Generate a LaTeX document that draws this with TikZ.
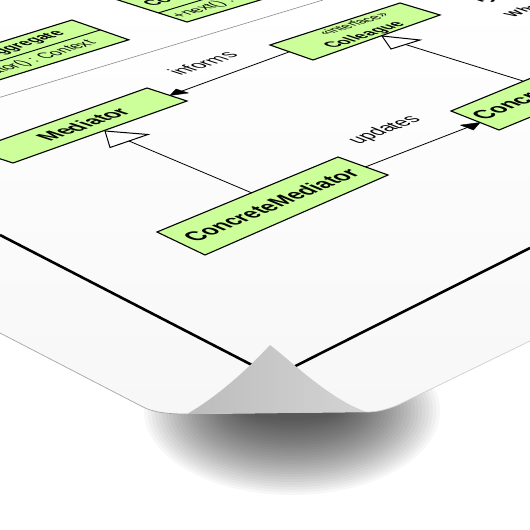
\documentclass[tikz,border=0pt]{standalone}
\usepackage{fontspec}
\setmainfont{Liberation Sans}
\usetikzlibrary{calc}
\definecolor{boxgreen}{RGB}{204,255,153}
\definecolor{sepgray}{RGB}{140,140,140}
\definecolor{edgegray}{RGB}{165,165,165}
\definecolor{edgelight}{RGB}{208,208,208}
\definecolor{curldark}{RGB}{188,188,188}
\definecolor{curllight}{RGB}{212,212,212}
\definecolor{paperlow}{RGB}{247,247,247}
\begin{document}
\begin{tikzpicture}[x=1pt,y=-1pt,
  box/.style={draw=black,line width=1.1pt,fill=boxgreen,line join=miter},
  divline/.style={draw=black,line width=0.9pt},
  conn/.style={draw=black,line width=0.8pt},
  headfill/.style={fill=black,draw=black,line width=0.4pt,line join=round},
  genhead/.style={fill=white,draw=black,line width=1pt,line join=miter},
  border/.style={draw=black,line width=2.6pt},
  txt/.style={inner sep=0pt,outer sep=0pt,text=black},
  fCI/.style={cm={0.958,0.288,-1.096,0.350,(0,0)}},
  fAgg/.style={cm={0.955,0.296,-1.087,0.380,(0,0)}},
  fMed/.style={cm={0.942,0.336,-1.094,0.355,(0,0)}},
  fCol/.style={cm={0.952,0.307,-1.094,0.357,(0,0)}},
  fInf/.style={cm={0.947,0.322,-1.094,0.357,(0,0)}},
  fCM/.style={cm={0.924,0.383,-1.060,0.445,(0,0)}},
  fUpd/.style={cm={0.930,0.360,-1.070,0.426,(0,0)}},
  fCC/.style={cm={0.925,0.380,-1.076,0.404,(0,0)}},
  fTR/.style={cm={0.950,0.310,-1.093,0.357,(0,0)}},
  bigname/.style={font=\fontsize{21}{24}\selectfont\bfseries},
  midname/.style={font=\fontsize{16}{19}\selectfont\bfseries},
  method/.style={font=\fontsize{15.5}{18}\selectfont},
  assoc/.style={font=\fontsize{19}{22}\selectfont},
]
\useasboundingbox (0,0) rectangle (530,530);
\clip (0,0) rectangle (530,530);
\fill[white] (0,0) rectangle (530,530);

% shadow under the curled corner
\foreach \i in {1,...,30}{
  \fill[black,opacity=0.03] (292,411) ellipse [x radius={40pt+3.6pt*\i}, y radius={6pt+2.6pt*\i}];
}

% paper
\shade[top color=white,bottom color=paperlow]
  (0,0) -- (530,0) -- (530,341) -- (398,405)
  .. controls (388,409) and (378,412) .. (367,412) -- (187,414)
  .. controls (170,414) and (155,413) .. (143,407) -- (0,333) -- cycle;
\draw[edgegray,line width=0.7pt] (0,333) -- (143,407) .. controls (155,413) and (170,414) .. (187,414);
\draw[edgelight,line width=0.7pt] (367,412) .. controls (378,412) and (388,409) .. (398,405) -- (530,341);

% separator line
\coordinate (sepA) at (0,97.3);
\coordinate (sepB) at (323,0);
\draw[sepgray,line width=0.6pt] (sepA) -- (sepB);

% ConcreteIterator (top, cut off)
\coordinate (ciTL) at (110.8,-2.3);
\coordinate (ciTR) at (244.9,-42.6);
\coordinate (ciBR) at (321.1,-18.3);
\coordinate (ciBL) at (187,22);
\coordinate (ciDL) at (158.4,12.9);
\coordinate (ciDR) at (292.5,-27.4);
\draw[box] (ciTL) -- (ciTR) -- (ciBR) -- (ciBL) -- cycle;
\draw[divline] (ciDL) -- (ciDR);
\node[txt,fCI,midname] (ciname) at (206.4,-13.4) {ConcreteIterator};
\node[txt,fCI,method,anchor=base west] (cimeth) at (180.4,18.1) {+next() : Context};

% ConcreteAggregate (top left, cut off)
\coordinate (caTL) at (-119,79.2);
\coordinate (caTR) at (72,20);
\coordinate (caBR) at (128.7,39.8);
\coordinate (caBL) at (-62.3,99);
\coordinate (caDL) at (-90.7,89.1);
\coordinate (caDR) at (100.4,29.9);
\draw[box] (caTL) -- (caTR) -- (caBR) -- (caBL) -- cycle;
\draw[divline] (caDL) -- (caDR);
\node[txt,fAgg,midname] (caname) at (-9.3,54.6) {ConcreteAggregate};
\node[txt,fAgg,method,anchor=base west] (cameth) at (-74.6,96.6) {+createIterator() : Context};

% Mediator
\coordinate (mTL) at (-27,150);
\coordinate (mTR) at (147,88);
\coordinate (mBR) at (187,101);
\coordinate (mBL) at (13,163);
\draw[box] (mTL) -- (mTR) -- (mBR) -- (mBL) -- cycle;
\node[txt,fMed,bigname] (mname) at (83,124.5) {Mediator};

% Colleague
\coordinate (cTL) at (270,45);
\coordinate (cTR) at (400,3);
\coordinate (cBR) at (440,15);
\coordinate (cBL) at (313,60);
\draw[box] (cTL) -- (cTR) -- (cBR) -- (cBL) -- cycle;
\node[txt,fCol,font=\fontsize{13.5}{16}\selectfont] (cster) at (353,24) {«interface»};
\node[txt,fCol,midname] (cname) at (365,35.5) {Colleague};

% ConcreteMediator
\coordinate (cmTL) at (157,232);
\coordinate (cmTR) at (338,157);
\coordinate (cmBR) at (388,175);
\coordinate (cmBL) at (205,255);
\draw[box] (cmTL) -- (cmTR) -- (cmBR) -- (cmBL) -- cycle;
\node[txt,fCM,bigname] (cmname) at (271,205) {ConcreteMediator};

% ConcreteColleague (right, cut off)
\coordinate (ccTL) at (451,111);
\coordinate (ccTR) at (636,35);
\coordinate (ccBR) at (684,54);
\coordinate (ccBL) at (499,130);
\draw[box] (ccTL) -- (ccTR) -- (ccBR) -- (ccBL) -- cycle;
\node[txt,fCC,bigname] (ccname) at (567.5,82) {ConcreteColleague};

% generalization ConcreteMediator -> Mediator
\coordinate (mgT) at (105,131);
\coordinate (mgB1) at (110,147.5);
\coordinate (mgB2) at (148,134.5);
\coordinate (mgBm) at (129,141);
\coordinate (cmTop) at (252,193);
\draw[conn] (mgBm) -- (cmTop);
\draw[genhead] (mgT) -- (mgB1) -- (mgB2) -- cycle;

% generalization ConcreteColleague -> Colleague
\coordinate (cgT) at (382,36);
\coordinate (cgB1) at (391,49);
\coordinate (cgB2) at (420,40);
\coordinate (cgBm) at (405.5,44.5);
\coordinate (ccTop) at (523,81);
\draw[conn] (cgBm) -- (ccTop);
\draw[genhead] (cgT) -- (cgB1) -- (cgB2) -- cycle;

% informs: Colleague -> Mediator
\coordinate (infS) at (289.4,51.8);
\coordinate (infT) at (170,95.5);
\coordinate (infB) at (182.2,91.0);
\coordinate (infH1) at (188.4,93.0);
\coordinate (infH2) at (176.0,89.0);
\draw[conn] (infS) -- (infB);
\draw[headfill] (infT) -- (infH1) -- (infH2) -- cycle;
\node[txt,fInf,assoc] (inflabel) at (202.5,63.5) {informs};

% updates: ConcreteMediator -> ConcreteColleague
\coordinate (updS) at (365.5,166.9);
\coordinate (updT) at (480,122.5);
\coordinate (updB) at (467,127.6);
\coordinate (updH1) at (473.5,130.0);
\coordinate (updH2) at (460.4,125.1);
\draw[conn] (updS) -- (updB);
\draw[headfill] (updT) -- (updH1) -- (updH2) -- cycle;
\node[txt,fUpd,assoc] (updlabel) at (385,130) {updates};

% top right text fragments
\node[txt,fTR,font=\fontsize{18}{21}\selectfont\bfseries,anchor=base west] (typetxt) at (478,4) {Type: Behavioral};
\node[txt,fTR,font=\fontsize{14}{17}\selectfont\bfseries,anchor=base west] (whattxt) at (513,17) {What it is:};

% poster border
\coordinate (bL) at (0,235);
\coordinate (bC) at (274.4,376.6);
\coordinate (bR) at (530,248);
\draw[border] (bL) -- (bC) -- (bR);

% curled corner (back of the paper)
\shade[left color=curldark,right color=curllight]
  (187,414) .. controls (215,398) and (245,372) .. (270,345)
  .. controls (290,360) and (330,400) .. (367,412) -- cycle;
\end{tikzpicture}
\end{document}
